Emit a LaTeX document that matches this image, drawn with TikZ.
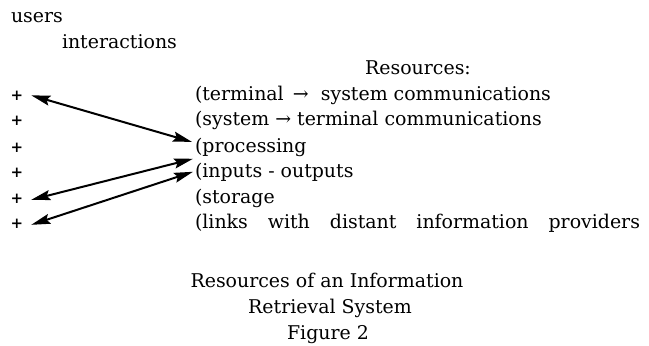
\documentclass[tikz,border=0pt]{standalone}
\usepackage{fontspec}
\setmainfont{DejaVu Serif}
\usetikzlibrary{arrows.meta,positioning}

\begin{document}
\begin{tikzpicture}[x=1bp, y=-1bp, font=\fontsize{19}{25}\selectfont,
    every node/.style={inner sep=0pt, outer sep=0pt},
    item/.style={anchor=base west},
    usermark/.style={anchor=base, font=\fontsize{15}{15}\selectfont\bfseries},
    link/.style={{Stealth[length=19bp,width=10bp,inset=3bp]}-{Stealth[length=19bp,width=10bp,inset=3bp]}, line width=2bp}]
    \useasboundingbox (0,0) rectangle (649,345);

    % Headings
    \node (users) [item] at (11,22) {users};
    \node (interactions) [item] at (62,48) {interactions};
    \node (resources) [anchor=base] at (418,74) {Resources:};

    % Resource list
    \node (terminal) [item] at (195,100) {(terminal \,→\ \ system communications};
    \node (system) [item] at (195,125) {(system → terminal communications};
    \node (processing) [item] at (195,152) {(processing};
    \node (inputs) [item] at (195,177) {(inputs - outputs};
    \node (storage) [item] at (195,203) {(storage};
    \node (links) [item] at (195,228) {\makebox[445bp][s]{(links with distant information providers}};

    % User marks
    \node (u1) [usermark] at (17,100) {+};
    \node (u2) [usermark] at (17,125) {+};
    \node (u3) [usermark] at (17,152) {+};
    \node (u4) [usermark] at (17,177) {+};
    \node (u5) [usermark] at (17,203) {+};
    \node (u6) [usermark] at (17,228) {+};

    % Arrows
    \draw[link] ([xshift=8bp]u1.east) -- ([xshift=-3bp,yshift=5bp]processing.west);
    \draw[link] ([xshift=8bp,yshift=-1.5bp]u5.east) -- ([xshift=-2bp,yshift=13bp]inputs.west);
    \draw[link] ([xshift=8bp,yshift=-1.5bp]u6.east) -- ([xshift=-2bp]inputs.west);

    % Caption
    \node (caption) [anchor=base] at (327,287) {Resources of an Information};
    \node (retrieval) [anchor=base] at (330,313) {Retrieval System};
    \node (figure) [anchor=base] at (328,339) {Figure 2};
\end{tikzpicture}
\end{document}
